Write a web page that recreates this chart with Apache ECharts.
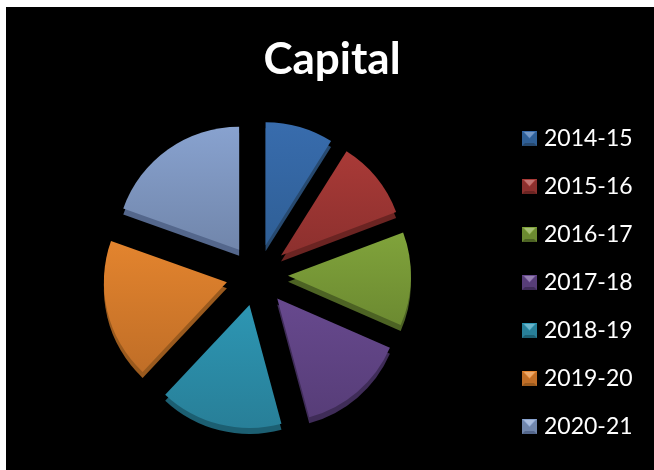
<!DOCTYPE html>
<html>
<head>
<meta charset="utf-8">
<style>html,body{margin:0;padding:0;background:#fff}#chart{width:654px;height:470px}</style>
<script src="https://cdn.jsdelivr.net/npm/echarts@6/dist/echarts.min.js"></script>
</head>
<body>
<div id="chart"></div>
<script>
const chartTitle = 'Capital';
const years = ['2014-15', '2015-16', '2016-17', '2017-18', '2018-19', '2019-20', '2020-21'];
const capital = [32, 37, 44, 51, 58, 66, 70];
const topLight = ['#386cad', '#a93a37', '#80a33b', '#67498e', '#2d96b3', '#e3842e', '#88a2cf'];
const topDark = ['#2f5f96', '#8c302e', '#6c8a31', '#573d78', '#287f98', '#c06e27', '#7186ab'];
const sideShade = ['#27496f', '#6b2422', '#4d6324', '#3f2c58', '#1c5f72', '#9a5a1e', '#54678c'];

const vertical = (a, b) => ({
  type: 'linear', x: 0, y: 0, x2: 0, y2: 1,
  colorStops: [{ offset: 0, color: a }, { offset: 1, color: b }]
});

// Small bevelled square used as the legend key
const keyIcon = (light, dark, side) => {
  const svg = `<svg xmlns="http://www.w3.org/2000/svg" width="15" height="15">` +
    `<rect width="15" height="15" fill="${dark}"/>` +
    `<path d="M0 0H15L7.5 8Z" fill="${light}"/>` +
    `<path d="M2 1H13L7.5 7Z" fill="#ffffff" opacity="0.3"/>` +
    `<path d="M0 15H15L12 12H3Z" fill="${side}"/></svg>`;
  return 'image://data:image/svg+xml;charset=utf-8,' + encodeURIComponent(svg);
};

const pieCommon = {
  type: 'pie',
  radius: [0, 123],
  startAngle: 90,
  clockwise: true,
  selectedMode: 'multiple',
  selectedOffset: 31,
  label: { show: false },
  labelLine: { show: false },
  silent: true,
  animation: false
};

const chart = echarts.init(document.getElementById('chart'), null, { renderer: 'canvas' });
chart.setOption({
  animation: false,
  backgroundColor: '#ffffff',
  graphic: [{
    type: 'rect', z: -1, silent: true,
    shape: { x: 6, y: 7, width: 648, height: 463 },
    style: { fill: '#000000' }
  }],
  title: {
    text: chartTitle,
    left: 327, top: 33, textAlign: 'center',
    textStyle: { color: '#ffffff', fontFamily: 'Lato', fontWeight: 'bold', fontSize: 44 }
  },
  legend: {
    orient: 'vertical',
    left: 517, top: 122,
    itemWidth: 15, itemHeight: 15,
    itemGap: 25,
    selectedMode: false,
    textStyle: { color: '#ffffff', fontFamily: 'Lato', fontSize: 23, padding: [0, 0, 0, 2] },
    data: years.map((name, i) => ({ name, icon: keyIcon(topLight[i], topDark[i], sideShade[i]) }))
  },
  series: [
    // Extruded rim sitting just below the top face
    Object.assign({}, pieCommon, {
      name: 'rim', center: [257, 281], z: 1,
      legendHoverLink: false,
      data: years.map((name, i) => ({
        name: name + ' rim', value: capital[i], selected: true,
        itemStyle: { color: sideShade[i] }
      }))
    }),
    // Top face
    Object.assign({}, pieCommon, {
      name: 'Capital', center: [257, 275], z: 2,
      data: years.map((name, i) => ({
        name, value: capital[i], selected: true,
        itemStyle: { color: vertical(topLight[i], topDark[i]) }
      }))
    })
  ]
});
</script>
</body>
</html>
